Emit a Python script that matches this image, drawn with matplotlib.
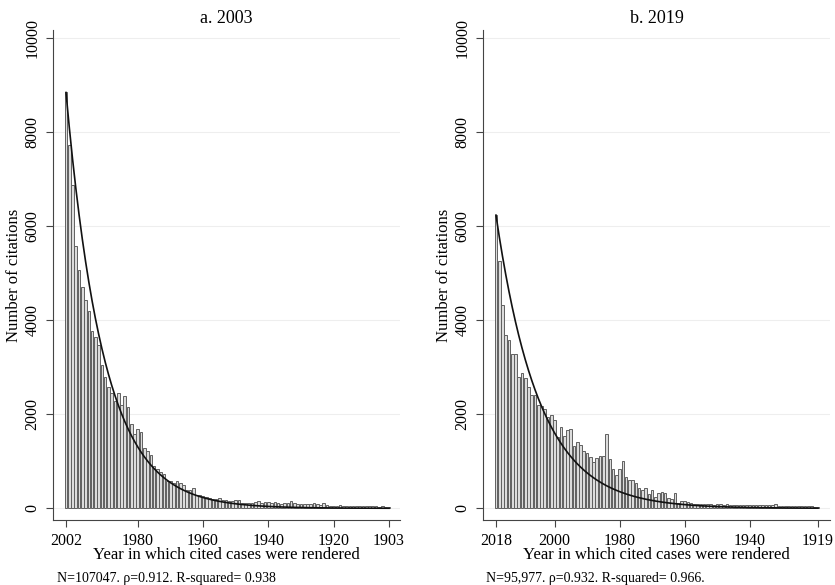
import numpy as np
import matplotlib.pyplot as plt

plt.rcParams['font.family'] = ['Liberation Serif', 'DejaVu Serif']

# citations per year of the cited case, newest year first
years_2003 = list(range(2002, 1902, -1))
cites_2003 = [8850, 7730, 6880, 5590, 5070, 4710, 4440, 4200, 3780, 3650,
              3470, 3060, 2790, 2590, 2450, 2290, 2450, 2200, 2380, 2150,
              1800, 1580, 1690, 1620, 1290, 1230, 1140, 910, 830, 780,
              730, 590, 590, 530, 590, 545, 490, 385, 385, 435,
              280, 275, 260, 240, 225, 205, 205, 225, 170, 170,
              165, 150, 180, 180, 115, 110, 115, 120, 125, 145,
              120, 125, 130, 110, 140, 120, 100, 110, 120, 150,
              110, 95, 90, 95, 100, 90, 110, 95, 80, 105,
              60, 55, 50, 55, 60, 50, 45, 55, 50, 45,
              50, 55, 45, 40, 50, 45, 35, 40, 30, 25]

years_2019 = list(range(2018, 1918, -1))
cites_2019 = [6240, 5260, 4325, 3690, 3580, 3280, 3280, 2790, 2870, 2765,
              2575, 2410, 2410, 2200, 2180, 2105, 1935, 1985, 1880, 1525,
              1720, 1540, 1665, 1695, 1325, 1420, 1350, 1225, 1185, 1085,
              990, 1065, 1120, 1120, 1590, 1040, 835, 710, 840, 1015,
              670, 610, 600, 535, 435, 395, 435, 295, 380, 250,
              320, 355, 335, 215, 195, 320, 110, 145, 150, 130,
              105, 100, 95, 100, 100, 85, 85, 80, 85, 95,
              80, 85, 70, 70, 75, 65, 70, 75, 70, 65,
              70, 65, 70, 60, 65, 70, 95, 50, 55, 50,
              50, 45, 50, 55, 45, 50, 45, 40, 35, 30]

# exponential fit parameters (start value, decay per year)
fit_2003 = (8850, 0.087)
fit_2019 = (6240, 0.0754)

xticks_2003 = [2002, 1980, 1960, 1940, 1920, 1903]
xticks_2019 = [2018, 2000, 1980, 1960, 1940, 1919]
yticks = [0, 2000, 4000, 6000, 8000, 10000]

fig = plt.figure(figsize=(8.35, 5.85), dpi=100)
ax1 = fig.add_axes([0.0635, 0.1111, 0.4156, 0.8376])
ax2 = fig.add_axes([0.5784, 0.1111, 0.4156, 0.8376])

panels = [
    (ax1, years_2003, cites_2003, fit_2003, xticks_2003, 'a. 2003', (2005.98, 1899.63)),
    (ax2, years_2019, cites_2019, fit_2019, xticks_2019, 'b. 2019', (2022.0, 1915.3)),
]

for ax, yrs, vals, fit, xt, title, xl in panels:
    yrs = np.array(yrs)
    ax.bar(yrs, vals, width=0.8, facecolor='#dcdcdc', edgecolor='#606060', linewidth=0.7, zorder=2)
    t = yrs[0] - yrs
    ax.plot(yrs, fit[0] * np.exp(-fit[1] * t), color='#111111', linewidth=1.2, zorder=3)
    ax.set_xlim(*xl)
    ax.set_ylim(-249, 10180)
    ax.set_xticks(xt)
    ax.set_yticks(yticks)
    ax.set_yticklabels([str(v) for v in yticks], rotation=90, va='center')
    ax.yaxis.grid(True, color='#eeeeee', linewidth=0.8, zorder=0)
    ax.set_axisbelow(True)
    for s in ['top', 'right']:
        ax.spines[s].set_visible(False)
    for s in ['left', 'bottom']:
        ax.spines[s].set_color('#444444')
    ax.tick_params(labelsize=11.5, length=5, color='#444444', pad=4)
    ax.set_title(title, fontsize=13, pad=5)
    ax.set_xlabel('Year in which cited cases were rendered', fontsize=12, labelpad=-1)
    ax.set_ylabel('Number of citations', fontsize=12, labelpad=2)

fig.text(0.068, 0.0103, 'N=107047. \u03c1=0.912. R-squared= 0.938', fontsize=10, va='center')
fig.text(0.582, 0.0103, 'N=95,977. \u03c1=0.932. R-squared= 0.966.', fontsize=10, va='center')

fig.savefig('out.png', dpi=100)
